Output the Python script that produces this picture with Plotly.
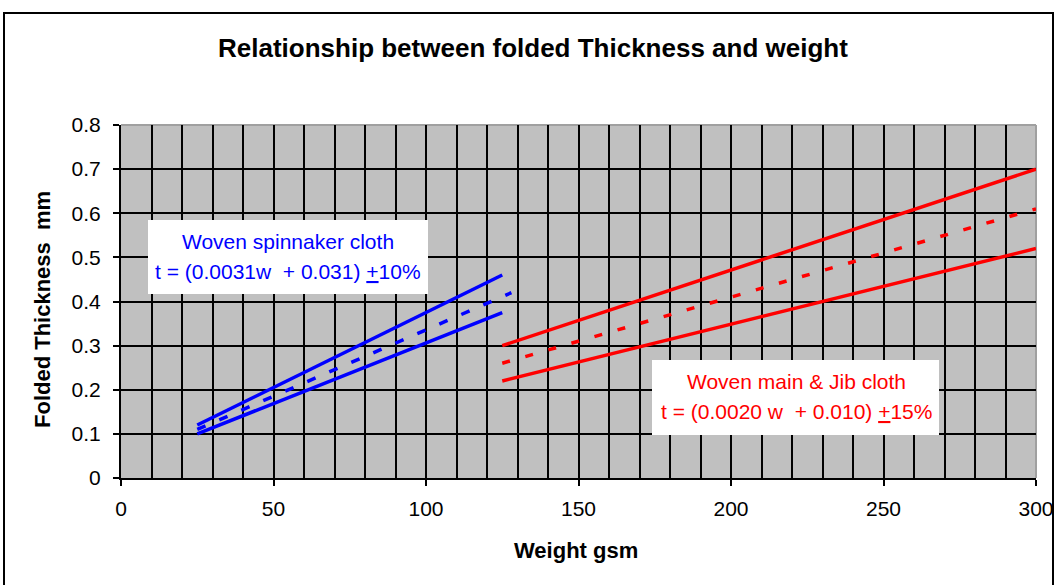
import plotly.graph_objects as go

# ---- data -------------------------------------------------------------
# Woven spinnaker cloth: t = (0.0031w + 0.031) +/-10%
spin_w = [25, 125]
spin_upper = [0.12, 0.46]
spin_lower = [0.10, 0.375]
spin_mid_w = [25, 128]
spin_mid = [0.11, 0.42]

# Woven main & Jib cloth: t = (0.0020w + 0.010) +/-15%
main_w = [125, 300]
main_upper = [0.30, 0.70]
main_lower = [0.22, 0.52]
main_mid = [0.26, 0.61]

x_ticks = [0, 50, 100, 150, 200, 250, 300]
y_ticks = [0, 0.1, 0.2, 0.3, 0.4, 0.5, 0.6, 0.7, 0.8]

# ---- layout geometry (pixels) -----------------------------------------
W, H = 1055, 585
L, R, T, B = 121, 19, 125, 107
PW, PH = W - L - R, H - T - B

def px_x(x):
    return (x - L) / PW

def px_y(y):
    return (H - B - y) / PH

FONT = "Arial, Liberation Sans, sans-serif"
BLUE = "#0000FF"
RED = "#FF0000"

fig = go.Figure()

line_w = 3.5
fig.add_trace(go.Scatter(x=spin_w, y=spin_upper, mode="lines",
                         line=dict(color=BLUE, width=line_w)))
fig.add_trace(go.Scatter(x=spin_w, y=spin_lower, mode="lines",
                         line=dict(color=BLUE, width=line_w)))
fig.add_trace(go.Scatter(x=spin_mid_w, y=spin_mid, mode="lines",
                         line=dict(color=BLUE, width=line_w, dash="9px,15px")))
fig.add_trace(go.Scatter(x=main_w, y=main_upper, mode="lines",
                         line=dict(color=RED, width=line_w)))
fig.add_trace(go.Scatter(x=main_w, y=main_lower, mode="lines",
                         line=dict(color=RED, width=line_w)))
fig.add_trace(go.Scatter(x=main_w, y=main_mid, mode="lines",
                         line=dict(color=RED, width=line_w, dash="8px,16px")))

axis_common = dict(
    showline=True, linecolor="black", linewidth=2,
    ticks="outside", ticklen=6, tickwidth=2, tickcolor="black",
    showgrid=True, gridcolor="black", gridwidth=2,
    zeroline=False, tickfont=dict(family=FONT, size=21, color="black"),
    fixedrange=True, automargin=False,
)

fig.update_xaxes(range=[0, 300], tickvals=x_ticks,
                 ticktext=[str(v) for v in x_ticks],
                 minor=dict(dtick=10, tick0=0, showgrid=True,
                            gridcolor="black", gridwidth=2, ticks=""),
                 ticklabelstandoff=5, **axis_common)
fig.update_yaxes(range=[0, 0.8], tickvals=y_ticks,
                 ticktext=[f"{v:g}" for v in y_ticks],
                 ticklabelstandoff=8, **axis_common)

shapes = [
    # plot-area frame on the top and right edges
    dict(type="line", xref="paper", yref="paper", x0=0, x1=1, y0=1, y1=1,
         line=dict(color="#A0A0A0", width=2), layer="between"),
    dict(type="line", xref="paper", yref="paper", x0=1, x1=1, y0=0, y1=1,
         line=dict(color="#A0A0A0", width=2), layer="between"),
    # chart border
    dict(type="rect", xref="paper", yref="paper",
         x0=px_x(4), x1=px_x(1053), y0=px_y(620), y1=px_y(13),
         line=dict(color="black", width=2), fillcolor="rgba(0,0,0,0)",
         layer="above"),
    # label boxes
    dict(type="rect", xref="paper", yref="paper",
         x0=px_x(148), x1=px_x(428), y0=px_y(294), y1=px_y(220),
         line=dict(width=0), fillcolor="white", layer="above"),
    dict(type="rect", xref="paper", yref="paper",
         x0=px_x(652), x1=px_x(939), y0=px_y(435), y1=px_y(360),
         line=dict(width=0), fillcolor="white", layer="above"),
]

def label(text, x, y, color="black", size=21, bold=False, angle=0):
    return dict(text=f"<b>{text}</b>" if bold else text,
                xref="paper", yref="paper", x=px_x(x), y=px_y(y),
                xanchor="center", yanchor="middle", showarrow=False,
                textangle=angle,
                font=dict(family=FONT, size=size, color=color))

annotations = [
    label("Relationship between folded Thickness and weight", 533, 48,
          size=26, bold=True),
    label("Weight gsm", 576, 550, size=22, bold=True),
    label("Folded Thickness  mm", 42, 310, size=22, bold=True, angle=-90),
    label("Woven spinnaker cloth", 288, 241, color=BLUE),
    label("t = (0.0031w  + 0.031) <u>+</u>10%", 288, 271, color=BLUE),
    label("Woven main &amp; Jib cloth", 796, 381, color=RED),
    label("t = (0.0020 w  + 0.010) <u>+</u>15%", 796, 411, color=RED),
]

fig.update_layout(
    width=W, height=H, autosize=False,
    margin=dict(l=L, r=R, t=T, b=B, pad=0),
    paper_bgcolor="white", plot_bgcolor="#C0C0C0",
    showlegend=False,
    shapes=shapes, annotations=annotations,
    font=dict(family=FONT, color="black"),
)

fig.write_html("out.html", config={"responsive": False})
